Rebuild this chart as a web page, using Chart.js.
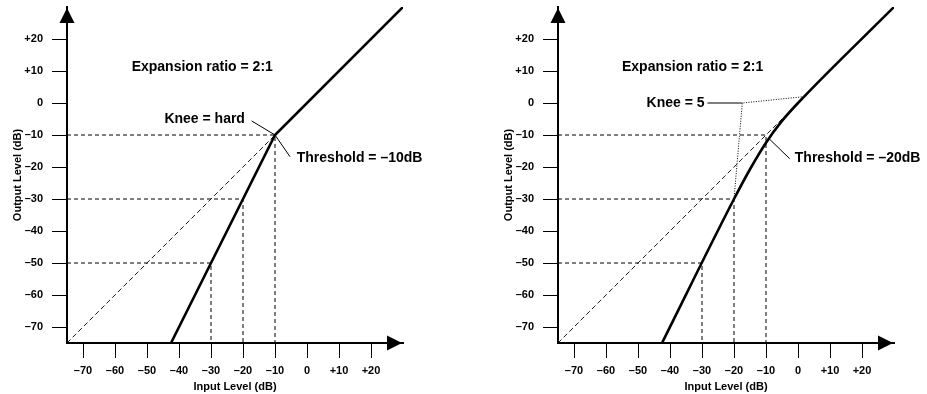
<!DOCTYPE html>
<html><head><meta charset="utf-8">
<script src="https://cdn.jsdelivr.net/npm/chart.js@4/dist/chart.umd.min.js"></script>
<style>
html,body{margin:0;padding:0;background:#fff;overflow:hidden;width:927px;height:394px;}
canvas{position:absolute;top:0;}
#c1{left:0;}
#c2{left:491px;}
</style></head><body>
<canvas id="c1" width="436" height="394"></canvas>
<canvas id="c2" width="436" height="394"></canvas>
<script>
// ---------- data ----------
const tickValues = [-70, -60, -50, -40, -30, -20, -10, 0, 10, 20];
const tickLabels = ['–70', '–60', '–50', '–40', '–30', '–20', '–10', '0', '+10', '+20'];
const xTitle = 'Input Level (dB)';
const yTitle = 'Output Level (dB)';
const axisMin = -75, axisMax = 30;

// panel 1 : hard knee, threshold -10 dB
const hardIn  = [-42.5, -10, 30];
const hardOut = [-75, -10, 30];
const hardUnityIn  = [-75, -10];
const hardUnityOut = [-75, -10];

// panel 2 : knee = 5
const softIn  = [-42.5, -20, -15, -10, -5, 0, 30];
const softOut = [-75, -30, -20.7, -12.4, -5.6, 0, 30];
const softUnityIn  = [-75, -3];
const softUnityOut = [-75, -3];
const kneeMarkIn  = [-20, -17.4, 2];
const kneeMarkOut = [-30, 0, 2];

// guide lines (input -> output) used in both panels
const guideIn  = [-30, -20, -10];
const guideOut = [-50, -30, -10];

// labels
const ratioLabel = 'Expansion ratio = 2:1';
const hardKneeLabel = 'Knee = hard';
const hardThreshLabel = 'Threshold = –10dB';
const softKneeLabel = 'Knee = 5';
const softThreshLabel = 'Threshold = –20dB';

// ---------- helpers ----------
const FONT = '"Liberation Sans", Arial, Helvetica, sans-serif';
const pts = (xs, ys) => xs.map((x, i) => ({x, y: ys[i]}));
function line(data, opts) {
  return Object.assign({data, showLine: true, pointRadius: 0, borderColor: '#000',
    backgroundColor: '#000', borderWidth: 1, fill: false, tension: 0}, opts);
}
function guides() {
  return guideIn.map((gx, i) => line(
    [{x: axisMin, y: guideOut[i]}, {x: gx, y: guideOut[i]}, {x: gx, y: axisMin}],
    {borderDash: [4, 3], borderWidth: 1}));
}

const decor = {
  id: 'decor',
  afterDraw(chart, args, o) {
    const {ctx, chartArea: a, scales: {x, y}} = chart;
    ctx.save();
    ctx.fillStyle = '#000';
    // arrow heads
    ctx.beginPath();
    ctx.moveTo(a.left, a.top + 1);
    ctx.lineTo(a.left - 7.5, a.top + 16);
    ctx.lineTo(a.left + 7.5, a.top + 16);
    ctx.closePath(); ctx.fill();
    ctx.beginPath();
    ctx.moveTo(a.right - 1, a.bottom);
    ctx.lineTo(a.right - 16, a.bottom - 7.5);
    ctx.lineTo(a.right - 16, a.bottom + 7.5);
    ctx.closePath(); ctx.fill();
    // notes
    ctx.font = 'bold 14px ' + FONT;
    ctx.textBaseline = 'middle';
    (o.notes || []).forEach(n => {
      ctx.textAlign = n.align;
      ctx.fillText(n.text, x.getPixelForValue(n.x), y.getPixelForValue(n.y));
    });
    ctx.restore();
  }
};

function zeroPad(s) { s.paddingTop = 0; s.paddingBottom = 0; s.paddingLeft = 0; s.paddingRight = 0; }

function makeOptions(notes) {
  const tickFont = {family: FONT, size: 11, weight: 'bold'};
  const common = {
    type: 'linear', min: axisMin, max: axisMax,
    afterBuildTicks: s => { s.ticks = tickValues.map(v => ({value: v})); },
    ticks: {
      color: '#000', font: tickFont, autoSkip: false, maxRotation: 0,
      callback: (v) => tickLabels[tickValues.indexOf(v)]
    },
    grid: {drawOnChartArea: false, drawTicks: true, tickLength: 15, tickWidth: 1, tickColor: '#000'},
    border: {display: true, color: '#000', width: 2},
  };
  return {
    responsive: false, animation: false, devicePixelRatio: 1,
    layout: {padding: {top: 7, right: 33, left: 0, bottom: 0}},
    plugins: {legend: {display: false}, tooltip: {enabled: false}, decor: {notes}},
    scales: {
      x: Object.assign({}, common, {
        position: 'bottom',
        ticks: Object.assign({}, common.ticks, {padding: 6}),
        title: {display: true, text: xTitle, color: '#000', font: {family: FONT, size: 11, weight: 'bold'}, padding: {top: 0, bottom: 0}},
        afterFit: s => { s.height = 51; zeroPad(s); }
      }),
      y: Object.assign({}, common, {
        position: 'left',
        ticks: Object.assign({}, common.ticks, {padding: 9}),
        title: {display: true, text: yTitle, color: '#000', font: {family: FONT, size: 11, weight: 'bold'}, padding: {top: 11, bottom: 0}},
        afterFit: s => { s.width = 67; zeroPad(s); }
      })
    }
  };
}

// ---------- panel 1 ----------
new Chart(document.getElementById('c1'), {
  type: 'scatter',
  data: {datasets: [
    line(pts(hardIn, hardOut), {borderWidth: 2.6}),
    line(pts(hardUnityIn, hardUnityOut), {borderDash: [5, 3], borderWidth: 0.9}),
    ...guides(),
    line([{x: -17.3, y: -5.6}, {x: -10, y: -10}, {x: -5.3, y: -16.8}], {borderWidth: 1})
  ]},
  options: makeOptions([
    {text: ratioLabel, x: -54.8, y: 11.3, align: 'left'},
    {text: hardKneeLabel, x: -19.4, y: -5, align: 'right'},
    {text: hardThreshLabel, x: -3.2, y: -17.3, align: 'left'}
  ]),
  plugins: [decor]
});

// ---------- panel 2 ----------
new Chart(document.getElementById('c2'), {
  type: 'scatter',
  data: {datasets: [
    line(pts(softIn, softOut), {borderWidth: 2.6, cubicInterpolationMode: 'monotone'}),
    line(pts(softUnityIn, softUnityOut), {borderDash: [5, 3], borderWidth: 0.9}),
    ...guides(),
    line(pts(kneeMarkIn, kneeMarkOut), {borderDash: [1, 1.5], borderWidth: 1}),
    line([{x: -28.3, y: 0}, {x: -17.4, y: 0}], {borderWidth: 1}),
    line([{x: -9.3, y: -10.9}, {x: -2.6, y: -17.4}], {borderWidth: 1})
  ]},
  options: makeOptions([
    {text: ratioLabel, x: -55.0, y: 11.3, align: 'left'},
    {text: softKneeLabel, x: -29.2, y: 0, align: 'right'},
    {text: softThreshLabel, x: -1.0, y: -17.3, align: 'left'}
  ]),
  plugins: [decor]
});
</script>
</body></html>
